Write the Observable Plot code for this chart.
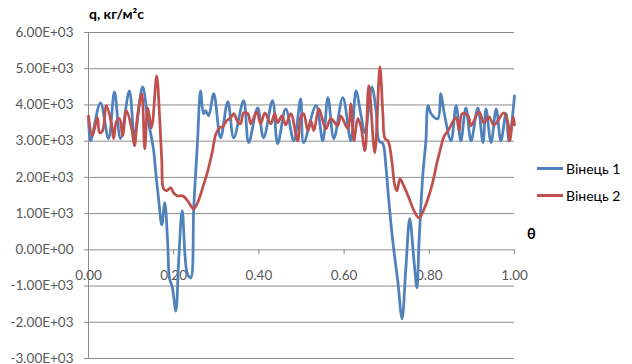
<!DOCTYPE html>
<html>
<head>
<meta charset="utf-8">
<script src="https://cdn.jsdelivr.net/npm/d3@7"></script>
<script src="https://cdn.jsdelivr.net/npm/@observablehq/plot@0.6"></script>
<style>
  html, body { margin: 0; padding: 0; background: #fff; }
  #wrap { position: relative; width: 632px; height: 364px; font-family: Lato, "Open Sans", sans-serif; color: #595959; }
  #wrap svg { position: absolute; left: 0; top: 0; }
  .ttl { position: absolute; font-weight: bold; color: #000; font-size: 14px; white-space: nowrap; }
  .leg { position: absolute; left: 537px; font-size: 14px; color: #000; display: flex; align-items: center; white-space: nowrap; }
  .leg span.sw { display: inline-block; width: 26px; height: 3px; margin-right: 3px; }
</style>
</head>
<body>
<div id="wrap"></div>
<script>
// Series 1: Вінець 1
const theta1 = [0.000,0.005,0.028,0.047,0.061,0.075,0.096,0.108,0.127,0.139,0.148,0.153,0.158,0.165,0.172,0.179,0.186,0.190,0.197,0.205,0.212,0.220,0.232,0.240,0.247,0.256,0.263,0.270,0.275,0.282,0.294,0.310,0.327,0.341,0.364,0.376,0.397,0.411,0.432,0.444,0.463,0.482,0.498,0.505,0.534,0.550,0.562,0.576,0.597,0.616,0.628,0.639,0.649,0.665,0.675,0.682,0.691,0.698,0.703,0.710,0.717,0.726,0.736,0.745,0.754,0.764,0.771,0.776,0.785,0.792,0.797,0.804,0.820,0.827,0.834,0.851,0.863,0.874,0.886,0.898,0.914,0.926,0.933,0.945,0.957,0.968,0.980,0.987,1.000];
const q1 = [3650,3010,4060,3070,4360,3070,4390,3150,4500,3620,3090,2735,2130,1350,690,1300,170,-770,-1050,-1690,-220,1080,-660,-770,1160,3010,4390,3760,3840,3700,4310,3090,4090,3090,4120,2960,3920,3090,4120,2930,3890,3010,4170,2960,3980,3010,4200,3070,4200,3010,4390,3760,3230,4500,3840,3010,2930,2320,1630,720,-30,-860,-1900,-500,860,-300,-1050,250,2100,3010,3980,3760,3620,4310,3840,3010,3980,3010,3920,3010,3920,2960,3890,2960,3890,3010,3760,3010,4250];

// Series 2: Вінець 2
const theta2 = [0.000,0.009,0.021,0.026,0.033,0.042,0.054,0.059,0.066,0.073,0.080,0.089,0.101,0.108,0.115,0.125,0.132,0.139,0.148,0.160,0.167,0.172,0.176,0.183,0.193,0.200,0.209,0.221,0.233,0.240,0.247,0.256,0.268,0.280,0.291,0.299,0.308,0.315,0.324,0.334,0.341,0.350,0.357,0.364,0.374,0.381,0.395,0.404,0.414,0.428,0.437,0.444,0.454,0.463,0.475,0.491,0.498,0.505,0.515,0.522,0.529,0.541,0.557,0.569,0.585,0.592,0.609,0.616,0.623,0.632,0.639,0.649,0.658,0.672,0.684,0.691,0.696,0.703,0.712,0.719,0.724,0.731,0.738,0.752,0.764,0.776,0.790,0.806,0.818,0.827,0.834,0.844,0.863,0.870,0.877,0.891,0.898,0.917,0.928,0.940,0.952,0.975,0.985,0.989,0.997,1.000];
const q2 = [3700,3150,3650,3230,3290,3980,3480,3070,3560,3620,3150,3840,3370,2870,3700,4310,2790,3920,3370,4800,3650,2460,1690,1630,1710,1570,1490,1490,1350,1220,1130,1300,1710,2180,2730,3200,3370,3400,3560,3650,3760,3540,3480,3780,3760,3480,3810,3480,3780,3480,3760,3510,3700,3450,3760,3010,3650,3760,3290,3560,3290,3890,3340,3620,3430,3700,3340,4030,3010,3620,3430,2730,4530,2680,5050,3760,3070,3010,2460,1770,1630,1960,1820,1440,1080,880,1190,1770,2400,2820,3120,3290,3650,3290,3760,3700,3430,3810,3510,3670,3450,3780,3480,3010,3670,3450];

const seriesNames = ["Вінець 1", "Вінець 2"];
const seriesColors = ["#4F81BD", "#C0504D"];

const yTicks = [-3000,-2000,-1000,0,1000,2000,3000,4000,5000,6000];
const yTickLabels = ["-3.00E+03","-2.00E+03","-1.00E+03","0.00E+00","1.00E+03","2.00E+03","3.00E+03","4.00E+03","5.00E+03","6.00E+03"];
const xTicks = [0,0.2,0.4,0.6,0.8,1.0];
const xTickLabels = ["0.00","0.20","0.40","0.60","0.80","1.00"];

const yTitle = "q, кг/м²с";
const xTitle = "θ";

const data1 = theta1.map((t,i) => ({theta: t, q: q1[i]}));
const data2 = theta2.map((t,i) => ({theta: t, q: q2[i]}));

const gridColor = "#8c8c8c";

const chart = Plot.plot({
  width: 632,
  height: 364,
  marginLeft: 88,
  marginRight: 118,
  marginTop: 32,
  marginBottom: 6,
  x: {domain: [0, 1], axis: null},
  y: {domain: [-3000, 6000], axis: null},
  style: {fontFamily: "Lato, 'Open Sans', sans-serif", fontSize: "13.5px", color: "#595959", background: "white", overflow: "visible"},
  marks: [
    Plot.ruleY(yTicks, {y: d => d, x1: 0, x2: 1, insetLeft: -4, stroke: gridColor, strokeWidth: 1}),
    Plot.ruleX([0], {x: d => d, stroke: gridColor, strokeWidth: 1}),
    Plot.ruleX(xTicks, {x: d => d, y1: 0, y2: 0, insetBottom: -5, stroke: gridColor, strokeWidth: 1}),
    Plot.text(yTicks, {x: 0, y: d => d, text: (d, i) => yTickLabels[i], dx: -15, textAnchor: "end", fill: "#595959"}),
    Plot.text(xTicks, {x: d => d, y: 0, text: (d, i) => xTickLabels[i], dy: 26, fill: "#595959"}),
    Plot.line(data1, {x: "theta", y: "q", stroke: seriesColors[0], strokeWidth: 2.75, curve: "catmull-rom"}),
    Plot.line(data2, {x: "theta", y: "q", stroke: seriesColors[1], strokeWidth: 2.75, curve: "catmull-rom"})
  ]
});

const wrap = document.getElementById("wrap");
wrap.appendChild(chart);

const t1 = document.createElement("div");
t1.className = "ttl";
t1.style.left = "89px"; t1.style.top = "5px";
t1.textContent = yTitle;
wrap.appendChild(t1);

const t2 = document.createElement("div");
t2.className = "ttl";
t2.style.left = "527px"; t2.style.top = "225px";
t2.style.fontSize = "14.5px";
t2.textContent = xTitle;
wrap.appendChild(t2);

seriesNames.forEach((name, i) => {
  const d = document.createElement("div");
  d.className = "leg";
  d.style.top = (160 + i * 27) + "px";
  const sw = document.createElement("span");
  sw.className = "sw";
  sw.style.background = seriesColors[i];
  d.appendChild(sw);
  d.appendChild(document.createTextNode(name));
  wrap.appendChild(d);
});
</script>
</body>
</html>
